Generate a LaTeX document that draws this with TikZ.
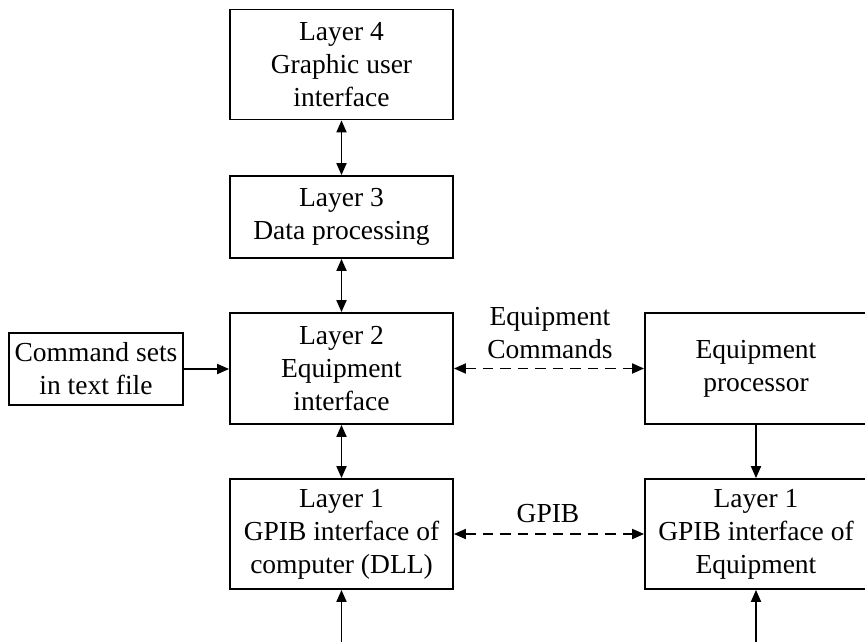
\documentclass[tikz,border=0pt]{standalone}
\usepackage{fontspec}
\setmainfont{Liberation Serif}
\usetikzlibrary{arrows.meta}
\begin{document}
\begin{tikzpicture}[x=1pt,y=-1pt,
  box/.style={draw,line width=1.8pt,inner sep=0pt,align=center,
    minimum width=223pt,minimum height=110pt,font=\fontsize{27.5}{33}\selectfont},
  lbl/.style={inner sep=0pt,align=center,font=\fontsize{27.5}{33}\selectfont},
  conn/.style={line width=1.8pt,arrows={-Triangle[length=12pt,width=10pt]}},
  bconn/.style={line width=1.8pt,arrows={Triangle[length=12pt,width=10pt]-Triangle[length=12pt,width=10pt]}},
  dconn/.style={bconn,dash pattern=on 10.5pt off 7pt}]
\useasboundingbox (0,0) rectangle (865,642);
\clip (0,0) rectangle (865,642);
\node[box] (L4) at (341.5,64.5) {Layer 4\\Graphic user\\interface};
\node[box,minimum height=82pt] (L3) at (341.5,217) {Layer 3\\Data processing};
\node[box,minimum height=111pt] (L2) at (341.5,368.5) {Layer 2\\Equipment\\interface};
\node[box] (L1) at (341.5,534) {Layer 1\\GPIB interface of\\computer (DLL)};
\node[box,minimum width=174pt,minimum height=72pt] (CMD) at (96,369) {Command sets\\in text file};
\node[box,minimum width=222pt,minimum height=111pt] (EP) at (756,368.5) {Equipment\\processor};
\node[box,minimum width=222pt] (R1) at (756,534) {Layer 1\\GPIB interface of\\Equipment};
\node[lbl] (EC) at (550,333.5) {Equipment\\Commands};
\node[lbl] (GP) at (548,514) {GPIB};
\coordinate (B1) at (341.5,642);
\coordinate (B2) at (756,642);
\draw[bconn] (L4.south) -- (L3.north);
\draw[bconn] (L3.south) -- (L2.north);
\draw[bconn] (L2.south) -- (L1.north);
\draw[conn] (CMD.east) -- (CMD.east -| L2.west);
\draw[dconn] (L2.east) -- (EP.west);
\draw[dconn] (L1.east) -- (R1.west);
\draw[conn] (EP.south) -- (R1.north);
\draw[conn] (B1) -- (L1.south);
\draw[conn] (B2) -- (R1.south);
\end{tikzpicture}
\end{document}
